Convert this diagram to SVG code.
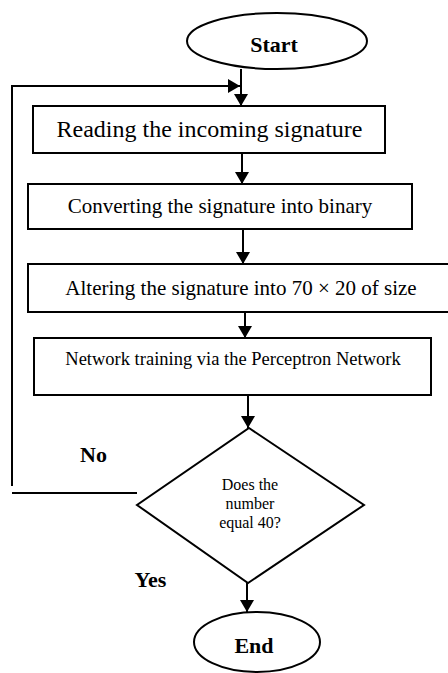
<svg xmlns="http://www.w3.org/2000/svg" width="448" height="673" viewBox="0 0 448 673">
<style>
.shape{fill:#fff;stroke:#000;stroke-width:2}
.conn{fill:none;stroke:#000;stroke-width:2}
text{font-family:"Liberation Serif","Times New Roman",serif;fill:#000;text-anchor:middle}
.b{font-weight:bold;font-size:22px}
</style>
<defs>
<marker id="ah" markerUnits="userSpaceOnUse" markerWidth="14" markerHeight="14" refX="12" refY="7" orient="auto">
<path d="M0,0 L12,7 L0,14 Z" fill="#000"/>
</marker>
</defs>
<rect width="448" height="673" fill="#fff"/>
<g id="connectors">
<line class="conn" x1="241" y1="69" x2="241" y2="106" marker-end="url(#ah)"/>
<polyline class="conn" points="12,486 12,86 240,86" marker-end="url(#ah)"/>
<line class="conn" x1="137" y1="493" x2="12" y2="493"/>
<line class="conn" x1="242" y1="153" x2="242" y2="184" marker-end="url(#ah)"/>
<line class="conn" x1="243" y1="229" x2="243" y2="264" marker-end="url(#ah)"/>
<line class="conn" x1="245" y1="312" x2="245" y2="338" marker-end="url(#ah)"/>
<line class="conn" x1="248" y1="395" x2="248" y2="428" marker-end="url(#ah)"/>
<line class="conn" x1="247" y1="577" x2="247" y2="612" marker-end="url(#ah)"/>
</g>
<g id="start">
<ellipse class="shape" cx="277" cy="41" rx="90" ry="28"/>
<text class="b" x="274" y="52">Start</text>
</g>
<g id="read">
<rect class="shape" x="33" y="106" width="352" height="47"/>
<text x="209.5" y="137" font-size="24">Reading the incoming signature</text>
</g>
<g id="convert">
<rect class="shape" x="28" y="184" width="384" height="45"/>
<text x="220" y="213" font-size="21">Converting the signature into binary</text>
</g>
<g id="alter">
<rect class="shape" x="28" y="264" width="425" height="48"/>
<text x="241" y="295" font-size="21">Altering the signature into 70 × 20 of size</text>
</g>
<g id="train">
<rect class="shape" x="34" y="338" width="397" height="57"/>
<text x="233" y="365" font-size="18.5">Network training via the Perceptron Network</text>
</g>
<g id="decision">
<polygon class="shape" points="249,428 364,505 248,583 137,505"/>
<text x="250" y="490" font-size="16">Does the</text>
<text x="250" y="509" font-size="16">number</text>
<text x="250" y="528" font-size="16">equal 40?</text>
</g>
<g id="labels">
<text class="b" x="93.5" y="462">No</text>
<text class="b" x="150.5" y="587">Yes</text>
</g>
<g id="end">
<ellipse class="shape" cx="257" cy="642" rx="63" ry="30"/>
<text class="b" x="254" y="653">End</text>
</g>
</svg>
